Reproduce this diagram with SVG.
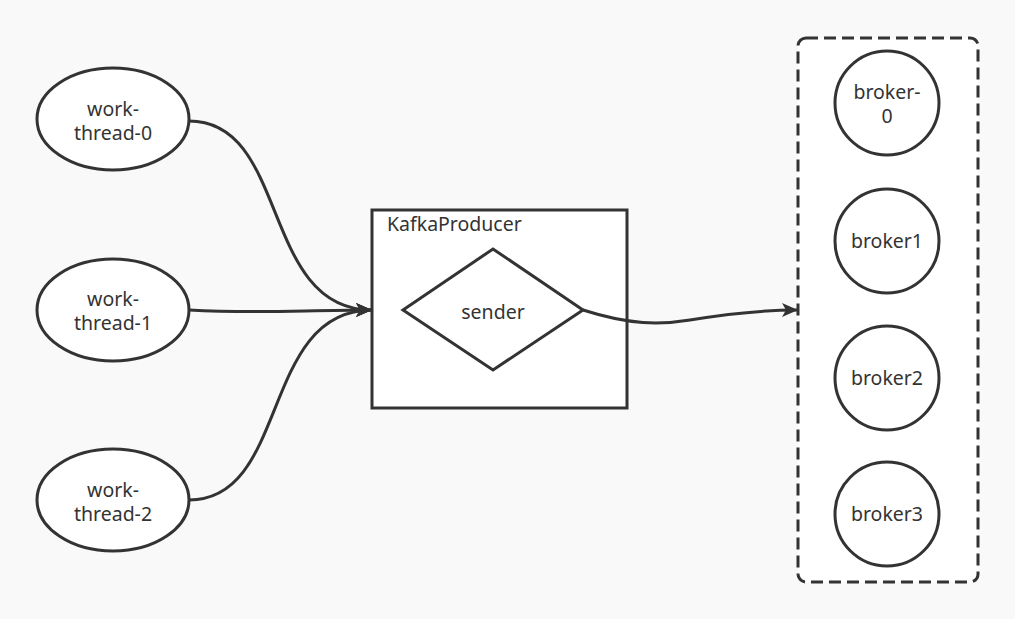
<svg xmlns="http://www.w3.org/2000/svg" width="1015" height="619" viewBox="0 0 1015 619">
<defs>
<marker id="arr" markerUnits="userSpaceOnUse" markerWidth="18" markerHeight="14" refX="16" refY="7" orient="auto">
<path d="M0,0 L16,7 L0,14 L4,7 z" fill="#333"/>
</marker>
<style>
.sh{fill:#fff;stroke:#333;stroke-width:3}
.t{font-family:"Microsoft YaHei","Noto Sans","Open Sans",sans-serif;font-size:19.5px;fill:#333;text-anchor:middle}
.c{fill:none;stroke:#333;stroke-width:3;marker-end:url(#arr)}
</style>
</defs>
<rect width="1015" height="619" fill="#f9f9f9"/>
<g id="brokers-group">
<rect x="798" y="38" width="180" height="544" rx="8" fill="#fff" stroke="#333" stroke-width="3" stroke-dasharray="12 6"/>
</g>
<g id="work-thread-0"><ellipse class="sh" cx="113" cy="119" rx="76" ry="51"/><text class="t" x="113" y="116">work-</text><text class="t" x="113" y="140">thread-0</text></g>
<g id="work-thread-1"><ellipse class="sh" cx="113" cy="310" rx="76" ry="51"/><text class="t" x="113" y="306">work-</text><text class="t" x="113" y="330">thread-1</text></g>
<g id="work-thread-2"><ellipse class="sh" cx="113" cy="500" rx="76" ry="51"/><text class="t" x="113" y="497">work-</text><text class="t" x="113" y="521">thread-2</text></g>
<g id="kafka-producer"><rect class="sh" x="372" y="210" width="255" height="198"/><text class="t" x="387" y="231" style="text-anchor:start">KafkaProducer</text></g>
<g id="sender"><path class="sh" d="M403,310 L493,249 L583,310 L493,370 Z"/><text class="t" x="493" y="319">sender</text></g>
<g id="broker-0"><circle class="sh" cx="887" cy="103" r="52"/><text class="t" x="887" y="99">broker-</text><text class="t" x="887" y="123">0</text></g>
<g id="broker1"><circle class="sh" cx="887" cy="241" r="52"/><text class="t" x="887" y="248">broker1</text></g>
<g id="broker2"><circle class="sh" cx="887" cy="378" r="52"/><text class="t" x="887" y="385">broker2</text></g>
<g id="broker3"><circle class="sh" cx="887" cy="514" r="52"/><text class="t" x="887" y="521">broker3</text></g>
<g id="connectors">
<path class="c" d="M189,121 C290,121 260,310 372,310"/>
<path class="c" d="M189,310 C260,314 300,310 372,310"/>
<path class="c" d="M189,500 C290,500 260,310 372,310"/>
<path class="c" d="M583,310 C630,325 660,325 690,320 S760,310 798,310"/>
</g>
</svg>
